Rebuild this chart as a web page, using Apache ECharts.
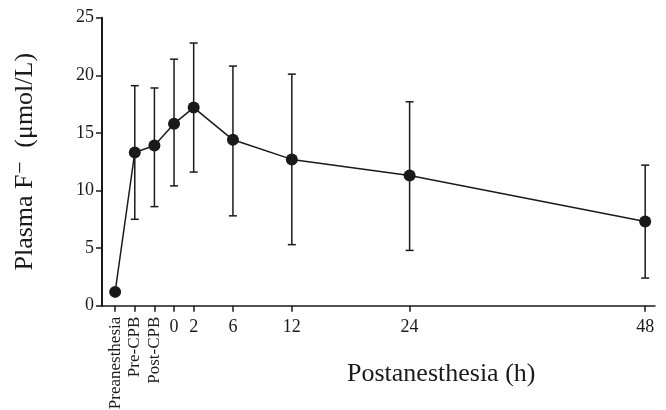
<!DOCTYPE html>
<html>
<head>
<meta charset="utf-8">
<script src="https://cdn.jsdelivr.net/npm/echarts@6/dist/echarts.min.js"></script>
<style>
  html, body { margin: 0; padding: 0; background: #fff; }
  #graph { width: 666px; height: 410px; }
</style>
</head>
<body>
<div id="graph"></div>
<script>
// time points (h); negative values are the pre-operative samples
var times = [-6, -4, -2, 0, 2, 6, 12, 24, 48];
var timeLabels = ['Preanesthesia', 'Pre-CPB', 'Post-CPB', '0', '2', '6', '12', '24', '48'];
// plasma fluoride mean and error bar ends (umol/L)
var means = [1.2, 13.3, 13.9, 15.8, 17.2, 14.4, 12.7, 11.3, 7.3];
var upper = [1.2, 19.1, 18.9, 21.4, 22.8, 20.8, 20.1, 17.7, 12.2];
var lower = [1.2, 7.5, 8.6, 10.4, 11.6, 7.8, 5.3, 4.8, 2.4];
var yTicks = [0, 5, 10, 15, 20, 25];

var serif = '"Liberation Serif", "DejaVu Serif", serif';
var ink = '#1a1a1a';

var lineData = times.map(function (t, i) { return [t, means[i]]; });
var barData = times.map(function (t, i) { return [t, lower[i], upper[i]]; });

var myChart = echarts.init(document.getElementById('graph'));
var option = {
    backgroundColor: '#fff',
    animation: false,
    title: {
        text: 'Postanesthesia (h)',
        left: 342,
        top: 356,
        textStyle: { fontFamily: serif, fontSize: 26, fontWeight: 'normal', color: ink }
    },
    grid: { left: 102, right: 11, top: 17.7, bottom: 104.3, outerBoundsMode: 'none' },
    xAxis: [
        {
            type: 'value',
            min: -7.34,
            max: 49,
            splitLine: { show: false },
            axisLine: { show: true, lineStyle: { color: ink, width: 1.5 } },
            axisTick: { show: true, length: 6, customValues: times, lineStyle: { color: ink, width: 1.5 } },
            axisLabel: {
                customValues: [0, 2, 6, 12, 24, 48],
                margin: 13,
                fontFamily: serif, fontSize: 18, color: ink,
                formatter: function (v) { return timeLabels[times.indexOf(v)]; }
            }
        },
        {
            type: 'value',
            position: 'bottom',
            min: -7.34,
            max: 49,
            splitLine: { show: false },
            axisLine: { show: false },
            axisTick: { show: false },
            axisLabel: {
                customValues: [-6, -4, -2],
                rotate: 90,
                margin: 11,
                fontFamily: serif, fontSize: 17, color: ink,
                formatter: function (v) { return timeLabels[times.indexOf(v)]; }
            }
        }
    ],
    yAxis: {
        type: 'value',
        min: 0,
        max: 25,
        interval: 5,
        name: 'Plasma F\u207B  (\u03BCmol/L)',
        nameLocation: 'middle',
        nameGap: 64,
        nameTextStyle: { fontFamily: serif, fontSize: 26, color: ink },
        splitLine: { show: false },
        axisLine: { show: true, onZero: false, lineStyle: { color: ink, width: 2 } },
        axisTick: { show: true, length: 6, lineStyle: { color: ink, width: 1.5 } },
        axisLabel: { margin: 8, fontFamily: serif, fontSize: 18, color: ink }
    },
    series: [
        {
            name: 'error',
            type: 'custom',
            xAxisIndex: 0,
            z: 1,
            renderItem: function (params, api) {
                var x = api.value(0);
                var lo = api.coord([x, api.value(1)]);
                var hi = api.coord([x, api.value(2)]);
                var cap = 4;
                var style = { stroke: ink, lineWidth: 1.5 };
                return {
                    type: 'group',
                    children: [
                        { type: 'line', shape: { x1: lo[0], y1: lo[1], x2: hi[0], y2: hi[1] }, style: style },
                        { type: 'line', shape: { x1: hi[0] - cap, y1: hi[1], x2: hi[0] + cap, y2: hi[1] }, style: style },
                        { type: 'line', shape: { x1: lo[0] - cap, y1: lo[1], x2: lo[0] + cap, y2: lo[1] }, style: style }
                    ]
                };
            },
            encode: { x: 0, y: [1, 2] },
            data: barData
        },
        {
            name: 'mean',
            type: 'line',
            xAxisIndex: 0,
            z: 3,
            symbol: 'circle',
            symbolSize: 12,
            itemStyle: { color: ink },
            lineStyle: { color: ink, width: 1.5 },
            data: lineData
        }
    ]
};
myChart.setOption(option);
</script>
</body>
</html>
